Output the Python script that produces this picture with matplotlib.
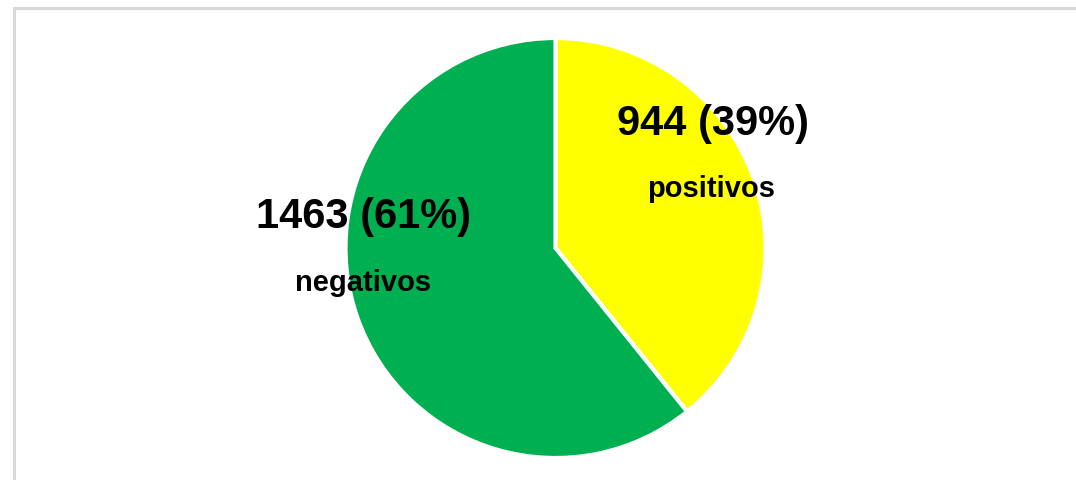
import matplotlib
matplotlib.use("Agg")
from matplotlib import pyplot as plt
from matplotlib.patches import Rectangle

plt.rcParams['font.family'] = ['Liberation Sans', 'DejaVu Sans']

# data
categories = ["positivos", "negativos"]
counts = [944, 1463]
colors = ["#FFFF00", "#00B050"]

W, H = 1076, 480
fig = plt.figure(figsize=(W / 100, H / 100), dpi=100)
fig.patch.set_facecolor("white")

# chart border (light gray frame, cut off at right / bottom)
fig.add_artist(Rectangle((14 / W, -0.1), 1.2, 1 - 8 / H + 0.1,
                         transform=fig.transFigure, fill=False,
                         edgecolor="#d9d9d9", linewidth=2.2))

# pie axes: centre (555.5, 248) px, radius ~210 px
cx, cy, r = 555.5, 248, 210
ax = fig.add_axes([(cx - r) / W, (H - cy - r) / H, 2 * r / W, 2 * r / H])
ax.pie(counts, colors=colors, startangle=90, counterclock=False, radius=1,
       wedgeprops=dict(edgecolor="white", linewidth=3))
ax.set_xlim(-1, 1)
ax.set_ylim(-1, 1)
ax.set_aspect("equal")
ax.axis("off")

total = sum(counts)
# label positions in pixels (value line baseline, category line baseline)
label_pos = [(713, 135, 711, 197), (363.5, 228, 363, 291)]
for cat, n, (x1, y1, x2, y2) in zip(categories, counts, label_pos):
    pct = round(100 * n / total)
    fig.text(x1 / W, 1 - y1 / H, f"{n} ({pct}%)", ha="center", va="baseline",
             fontsize=30, fontweight="bold", color="black")
    fig.text(x2 / W, 1 - y2 / H, cat, ha="center", va="baseline",
             fontsize=21, fontweight="bold", color="black")

fig.savefig("out.png", dpi=100)
